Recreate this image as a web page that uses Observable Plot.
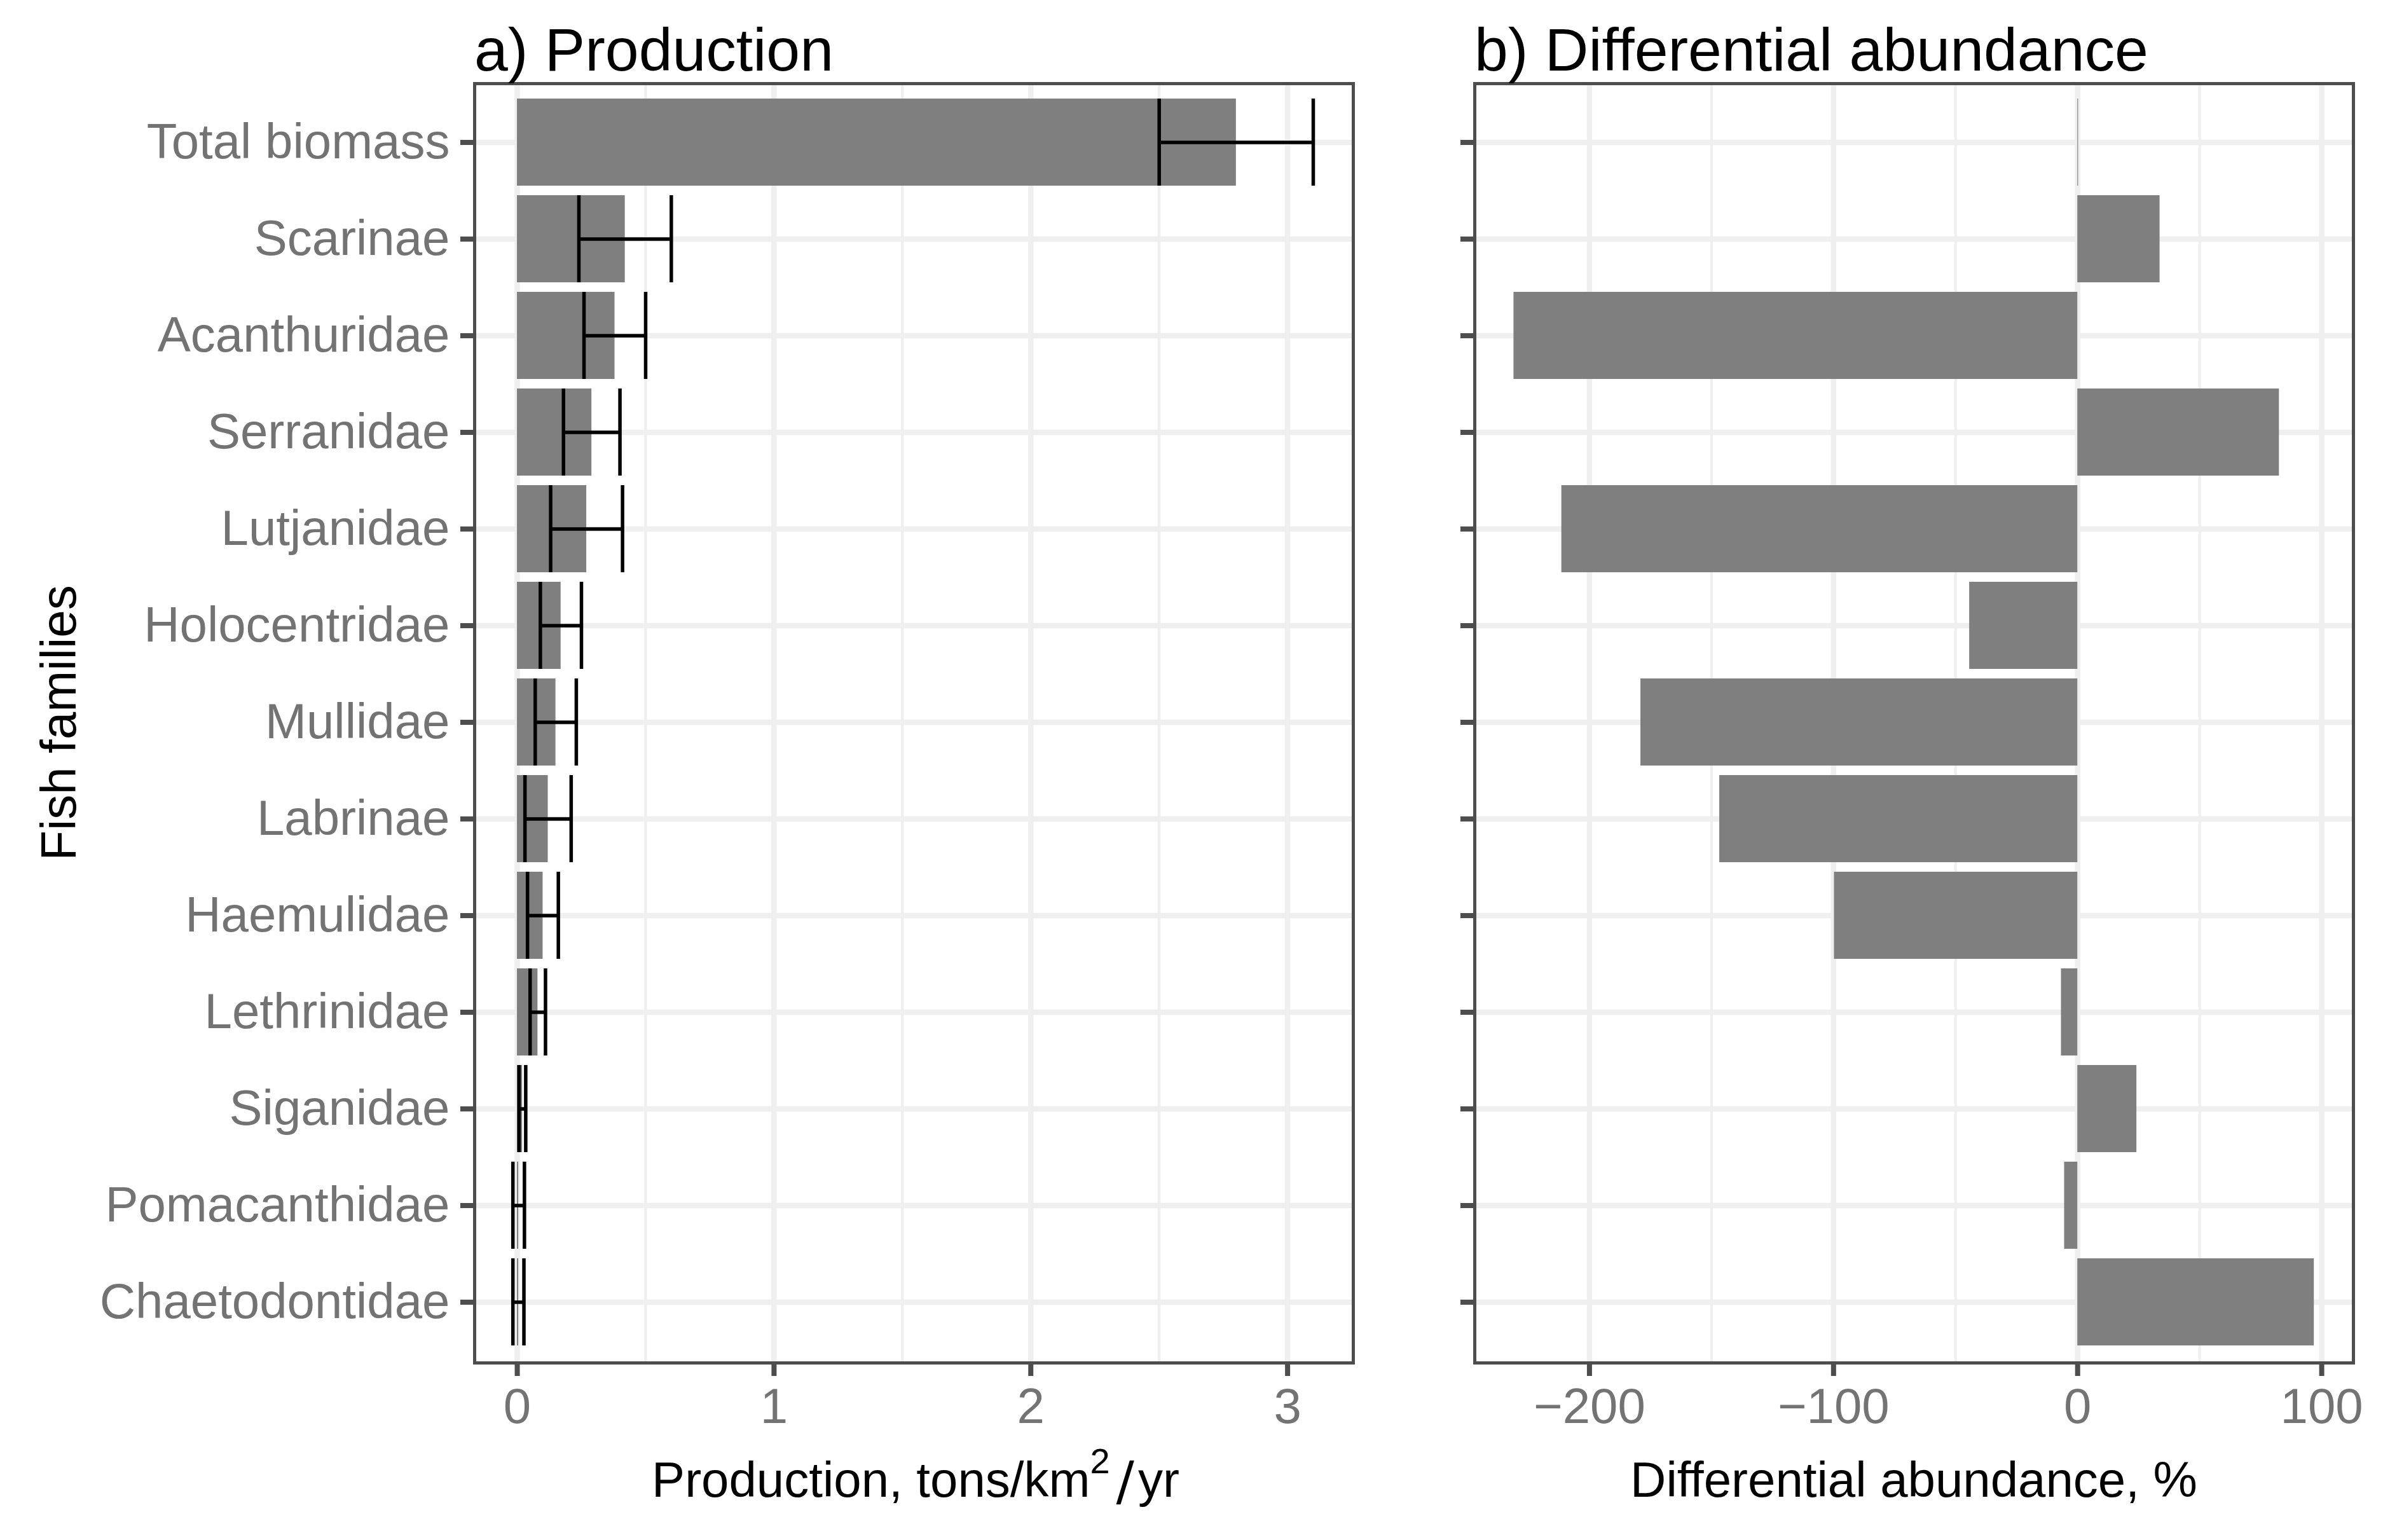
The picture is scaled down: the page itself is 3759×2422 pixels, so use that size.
<!DOCTYPE html>
<html>
<head>
<meta charset="utf-8">
<script src="https://cdn.jsdelivr.net/npm/d3@7"></script>
<script src="https://cdn.jsdelivr.net/npm/@observablehq/plot@0.6"></script>
<style>
  html, body { margin: 0; padding: 0; background: #ffffff; }
  #wrap { position: relative; width: 3759px; height: 2422px; background: #ffffff; font-family: "Liberation Sans", Arial, sans-serif; }
  #wrap > svg, #wrap > figure { position: absolute; top: 0; margin: 0; }
  #overlay { position: absolute; left: 0; top: 0; pointer-events: none; }
</style>
</head>
<body>
<div id="wrap"></div>
<script>
// ---- Data ----
const families = ["Total biomass", "Scarinae", "Acanthuridae", "Serranidae", "Lutjanidae",
  "Holocentridae", "Mullidae", "Labrinae", "Haemulidae", "Lethrinidae",
  "Siganidae", "Pomacanthidae", "Chaetodontidae"];
const production = [2.80, 0.42, 0.38, 0.29, 0.27, 0.17, 0.15, 0.12, 0.10, 0.08, 0.02, 0.005, 0.005];
const productionLow = [2.50, 0.24, 0.26, 0.18, 0.13, 0.09, 0.07, 0.03, 0.04, 0.05, 0.007, -0.017, -0.017];
const productionHigh = [3.10, 0.60, 0.50, 0.40, 0.41, 0.25, 0.23, 0.21, 0.16, 0.11, 0.033, 0.028, 0.026];
const diffAbundance = [0.3, 33.7, -231, 82.6, -211.4, -44.3, -179, -146.7, -99.7, -6.7, 24.2, -5.4, 96.9];

const prodTicks = [0, 1, 2, 3];
const prodMinor = [0.5, 1.5, 2.5];
const diffTicks = [-200, -100, 0, 100];
const diffMinor = [-150, -50, 50];

// ---- Tables built from the arrays ----
const prodData = families.map((f, i) => ({family: f, value: production[i], lo: productionLow[i], hi: productionHigh[i]}));
const diffData = families.map((f, i) => ({family: f, value: diffAbundance[i]}));

const FONT = "'Liberation Sans', Arial, sans-serif";
const GRID = "#efefef";
const BORDER = "#4d4d4d";
const TICKTEXT = "#737373";
const BAR = "#7f7f7f";
const H = 2422, MT = 131, MB = 2422 - 2143;

const yScale = {type: "band", domain: families, paddingInner: 0.1, paddingOuter: 0.15, align: 0.47};

const plotA = Plot.plot({
  width: 2200, height: H,
  marginLeft: 746, marginRight: 72, marginTop: MT, marginBottom: MB,
  style: {fontFamily: FONT, fontSize: "78px", background: "transparent"},
  x: {domain: [-0.166, 3.256], axis: null},
  y: {...yScale, axis: null},
  marks: [
    Plot.gridX(prodMinor, {stroke: GRID, strokeOpacity: 1, strokeWidth: 4.3}),
    Plot.gridX(prodTicks, {stroke: GRID, strokeOpacity: 1, strokeWidth: 8.5}),
    Plot.gridY(families, {stroke: GRID, strokeOpacity: 1, strokeWidth: 8.5}),
    Plot.barX(prodData, {x: "value", y: "family", fill: BAR}),
    Plot.ruleY(prodData, {y: "family", x1: "lo", x2: "hi", stroke: "#000", strokeWidth: 5.5}),
    Plot.tickX(prodData, {x: "lo", y: "family", stroke: "#000", strokeWidth: 5.5}),
    Plot.tickX(prodData, {x: "hi", y: "family", stroke: "#000", strokeWidth: 5.5}),
    Plot.frame({stroke: BORDER, strokeWidth: 5}),
    Plot.axisX(prodTicks, {anchor: "bottom", tickSize: 21, tickPadding: 18, stroke: BORDER, strokeWidth: 8,
      fill: TICKTEXT, fontSize: 78, label: null, tickFormat: d => String(d)}),
    Plot.axisY(families, {anchor: "left", tickSize: 22, tickPadding: 17, stroke: BORDER, strokeWidth: 8,
      fill: TICKTEXT, fontSize: 78, label: null})
  ]
});
plotA.style.left = "0px";

const plotB = Plot.plot({
  width: 1559, height: H,
  marginLeft: 119, marginRight: 58, marginTop: MT, marginBottom: MB,
  style: {fontFamily: FONT, fontSize: "78px", background: "transparent"},
  x: {domain: [-247, 113], axis: null},
  y: {...yScale, axis: null},
  marks: [
    Plot.gridX(diffMinor, {stroke: GRID, strokeOpacity: 1, strokeWidth: 4.3}),
    Plot.gridX(diffTicks, {stroke: GRID, strokeOpacity: 1, strokeWidth: 8.5}),
    Plot.gridY(families, {stroke: GRID, strokeOpacity: 1, strokeWidth: 8.5}),
    Plot.barX(diffData, {x: "value", y: "family", fill: BAR}),
    Plot.frame({stroke: BORDER, strokeWidth: 5}),
    Plot.axisX(diffTicks, {anchor: "bottom", tickSize: 21, tickPadding: 18, stroke: BORDER, strokeWidth: 8,
      fill: TICKTEXT, fontSize: 78, label: null, tickFormat: d => (d < 0 ? "\u2212" + Math.abs(d) : String(d))}),
    Plot.axisY(families, {anchor: "left", tickSize: 22, stroke: BORDER, strokeWidth: 8,
      label: null, tickFormat: () => ""})
  ]
});
plotB.style.left = "2200px";

const wrap = document.getElementById("wrap");
wrap.appendChild(plotA);
wrap.appendChild(plotB);

// ---- Titles and axis titles ----
const NS = "http://www.w3.org/2000/svg";
const ov = document.createElementNS(NS, "svg");
ov.setAttribute("id", "overlay");
ov.setAttribute("width", 3759);
ov.setAttribute("height", 2422);
ov.style.fontFamily = FONT;
function txt(x, y, s, size, anchor, extra) {
  const t = document.createElementNS(NS, "text");
  t.setAttribute("x", x); t.setAttribute("y", y);
  t.setAttribute("font-size", size);
  t.setAttribute("fill", "#000");
  t.setAttribute("text-anchor", anchor || "start");
  if (s != null) t.textContent = s;
  if (extra) extra(t);
  ov.appendChild(t);
  return t;
}
txt(746, 111, "a) Production", 95, "start");
txt(2319, 111, "b) Differential abundance", 95, "start");
txt(0, 0, "Fish families", 78, "middle", t => t.setAttribute("transform", "translate(119,1137) rotate(-90)"));
txt(3010, 2354, "Differential abundance, %", 78, "middle");
// Production, tons/km^2/yr
txt(1440, 2354, null, 78, "middle", t => {
  const a = document.createElementNS(NS, "tspan"); a.textContent = "Production, tons/km"; t.appendChild(a);
  const b = document.createElementNS(NS, "tspan"); b.textContent = "2"; b.setAttribute("font-size", 56); b.setAttribute("dy", -37); t.appendChild(b);
  const c = document.createElementNS(NS, "tspan"); c.textContent = "/"; c.setAttribute("font-size", 84);
  c.setAttribute("font-family", "'DejaVu Sans', sans-serif"); c.setAttribute("font-weight", "normal");
  c.setAttribute("dy", 41); c.setAttribute("dx", 10); t.appendChild(c);
  const d = document.createElementNS(NS, "tspan"); d.textContent = "yr"; d.setAttribute("font-size", 78); d.setAttribute("dy", -4); d.setAttribute("dx", 6); t.appendChild(d);
});
wrap.appendChild(ov);
</script>
</body>
</html>
